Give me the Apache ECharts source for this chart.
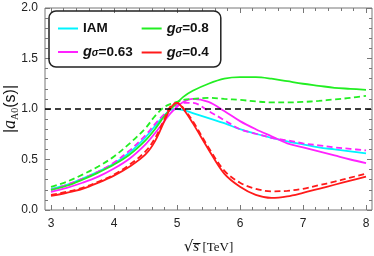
<!DOCTYPE html>
<html><head><meta charset="utf-8">
<script src="https://cdn.jsdelivr.net/npm/echarts@6/dist/echarts.min.js"></script>
<style>html,body{margin:0;padding:0;background:#fff}#c{width:374px;height:256px}</style>
</head><body><div id="c"></div>
<script>
const xs = [3, 3.25, 3.5, 3.75, 4, 4.25, 4.5, 4.65, 4.8, 4.9, 5.0, 5.1, 5.25, 5.5, 5.75, 6, 6.25, 6.5, 6.75, 7, 7.25, 7.5, 7.75, 8];
const iam      = [0.21,0.25,0.31,0.38,0.46,0.57,0.72,0.83,0.94,0.99,1.00,0.99,0.96,0.91,0.86,0.80,0.755,0.715,0.68,0.65,0.62,0.60,0.58,0.56];
const g063     = [0.18,0.22,0.27,0.33,0.41,0.51,0.65,0.76,0.88,0.96,1.02,1.07,1.10,1.07,0.98,0.88,0.80,0.73,0.66,0.62,0.58,0.54,0.50,0.465];
const g063d    = [0.20,0.25,0.31,0.38,0.47,0.59,0.74,0.85,0.95,1.00,1.04,1.06,1.06,0.98,0.89,0.80,0.755,0.715,0.69,0.66,0.64,0.62,0.605,0.59];
const g08      = [0.20,0.24,0.30,0.37,0.45,0.55,0.69,0.80,0.93,1.00,1.06,1.12,1.18,1.25,1.30,1.315,1.315,1.30,1.275,1.25,1.23,1.21,1.20,1.19];
const g08d     = [0.23,0.28,0.35,0.43,0.53,0.66,0.81,0.93,1.02,1.05,1.07,1.09,1.10,1.11,1.10,1.09,1.075,1.065,1.065,1.07,1.08,1.095,1.11,1.13];
const g04      = [0.14,0.17,0.21,0.27,0.34,0.43,0.55,0.68,0.88,1.01,1.06,1.00,0.86,0.60,0.36,0.23,0.15,0.12,0.135,0.17,0.21,0.25,0.29,0.33];
const g04d     = [0.15,0.18,0.22,0.28,0.35,0.45,0.58,0.71,0.90,1.03,1.06,1.01,0.88,0.62,0.39,0.27,0.21,0.185,0.19,0.21,0.245,0.28,0.32,0.36];
const refLevel = 1;
const xMajor = [3, 4, 5, 6, 7, 8];
const xMinor = [3.2,3.4,3.6,3.8,4.2,4.4,4.6,4.8,5.2,5.4,5.6,5.8,6.2,6.4,6.6,6.8,7.2,7.4,7.6,7.8];
const legendNames = ['IAM', 'g=0.63', 'g=0.8', 'g=0.4'];

const pair = ys => xs.map((x, i) => [x, ys[i]]);
const XMIN = 2.905, XMAX = 8.095;
const axisCol = '#777';

function xAx(pos, vals, len, labels) {
  return {
    type: 'value', min: XMIN, max: XMAX, position: pos,
    axisLine: {show: false}, splitLine: {show: false},
    axisTick: {show: true, inside: true, length: len, customValues: vals, lineStyle: {color: axisCol}},
    axisLabel: labels ? {show: true, customValues: vals, margin: 8, color: '#222', fontSize: 12, fontFamily: 'Liberation Sans'} : {show: false}
  };
}
function yAx(pos, labels) {
  return {
    type: 'value', min: 0, max: 2, interval: 0.5, position: pos,
    axisLine: {show: false}, splitLine: {show: false},
    axisTick: {show: true, inside: true, length: 5, lineStyle: {color: axisCol}},
    minorTick: {show: true, splitNumber: 5, length: 3, lineStyle: {color: axisCol}},
    axisLabel: labels ? {show: true, margin: 7, color: '#222', fontSize: 12, fontFamily: 'Liberation Sans', formatter: v => v.toFixed(1)} : {show: false}
  };
}

const xAxes = [xAx('bottom', xMajor, 5, true), xAx('bottom', xMinor, 3, false), xAx('top', xMajor, 5, false), xAx('top', xMinor, 3, false)];
xAxes[0].name = '{r|√}{s|s\u0305}{t| [TeV]}';
xAxes[0].nameLocation = 'middle';
xAxes[0].nameMoveOverlap = false;
xAxes[0].nameGap = 30;
xAxes[0].nameTextStyle = {rich: {
  r: {fontFamily: 'DejaVu Serif', fontSize: 15, color: '#111'},
  s: {fontFamily: 'Liberation Serif', fontStyle: 'italic', fontSize: 15, color: '#111'},
  t: {fontFamily: 'Liberation Serif', fontSize: 13, color: '#111'}
}};
const yAxes = [yAx('left', true), yAx('right', false)];
yAxes[0].name = '{p||}{a|a}{sub|A0}{p|(s)|}';
yAxes[0].nameLocation = 'middle';
yAxes[0].nameMoveOverlap = false;
yAxes[0].nameRotate = 90;
yAxes[0].nameGap = 25;
yAxes[0].nameTextStyle = {rich: {
  p: {fontFamily: 'Liberation Sans', fontSize: 16, color: '#111', lineHeight: 19},
  a: {fontFamily: 'Liberation Serif', fontStyle: 'italic', fontSize: 18, color: '#111', lineHeight: 19},
  sub: {fontFamily: 'Liberation Serif', fontSize: 10, color: '#111', lineHeight: 19, verticalAlign: 'bottom'}
}};

function line(name, ys, color, dashed, inLegend) {
  return {
    name: inLegend ? name : name + '_d', type: 'line', data: pair(ys), smooth: 0.35,
    symbol: 'none', showSymbol: false, xAxisIndex: 0, yAxisIndex: 0,
    lineStyle: {color: color, width: 1.8, type: dashed ? [6, 3.5] : 'solid'},
    itemStyle: {color: color}, z: 3
  };
}

const series = [
  line('IAM', iam, '#00f4ff', false, true),
  line('g=0.63', g063, '#ff22ff', false, true),
  line('g=0.63', g063d, '#ff22ff', true, false),
  line('g=0.8', g08, '#22ee22', false, true),
  line('g=0.8', g08d, '#22ee22', true, false),
  line('g=0.4', g04d, '#ff1a1a', true, false),
  line('g=0.4', g04, '#ff1a1a', false, true)
];
series[0].markLine = {
  silent: true, symbol: 'none', label: {show: false},
  lineStyle: {color: '#000', width: 1.6, type: [6, 4]},
  data: [{yAxis: refLevel}]
};

const chart = echarts.init(document.getElementById('c'));
chart.setOption({
  animation: false,
  backgroundColor: '#fff',
  grid: {left: 45, right: 2, top: 8, bottom: 46, show: true, borderColor: axisCol, borderWidth: 1, backgroundColor: 'transparent', outerBoundsMode: 'none', containLabel: false},
  xAxis: xAxes,
  yAxis: yAxes,
  legend: {
    data: legendNames, orient: 'vertical', left: 49, top: 11, height: 40,
    padding: [10, 12, 7, 9], itemGap: 9, itemWidth: 20, itemHeight: 2, icon: 'rect',
    borderColor: '#222', borderWidth: 1.5, borderRadius: 7,
    formatter: n => n === 'IAM' ? '{b|IAM}' : '{g|g}{s|σ}{b|' + n.slice(1) + '}',
    textStyle: {width: 58, rich: {
      b: {fontFamily: 'Liberation Sans', fontWeight: 'bold', fontSize: 13.5, color: '#111', lineHeight: 13},
      g: {fontFamily: 'Liberation Sans', fontWeight: 'bold', fontStyle: 'italic', fontSize: 14.5, color: '#111', lineHeight: 13},
      s: {fontFamily: 'Liberation Sans', fontWeight: 'bold', fontStyle: 'italic', fontSize: 10, color: '#111', lineHeight: 13, verticalAlign: 'bottom', padding: [4, 0, 0, 0]}
    }}
  },
  series: series
});
</script></body></html>
